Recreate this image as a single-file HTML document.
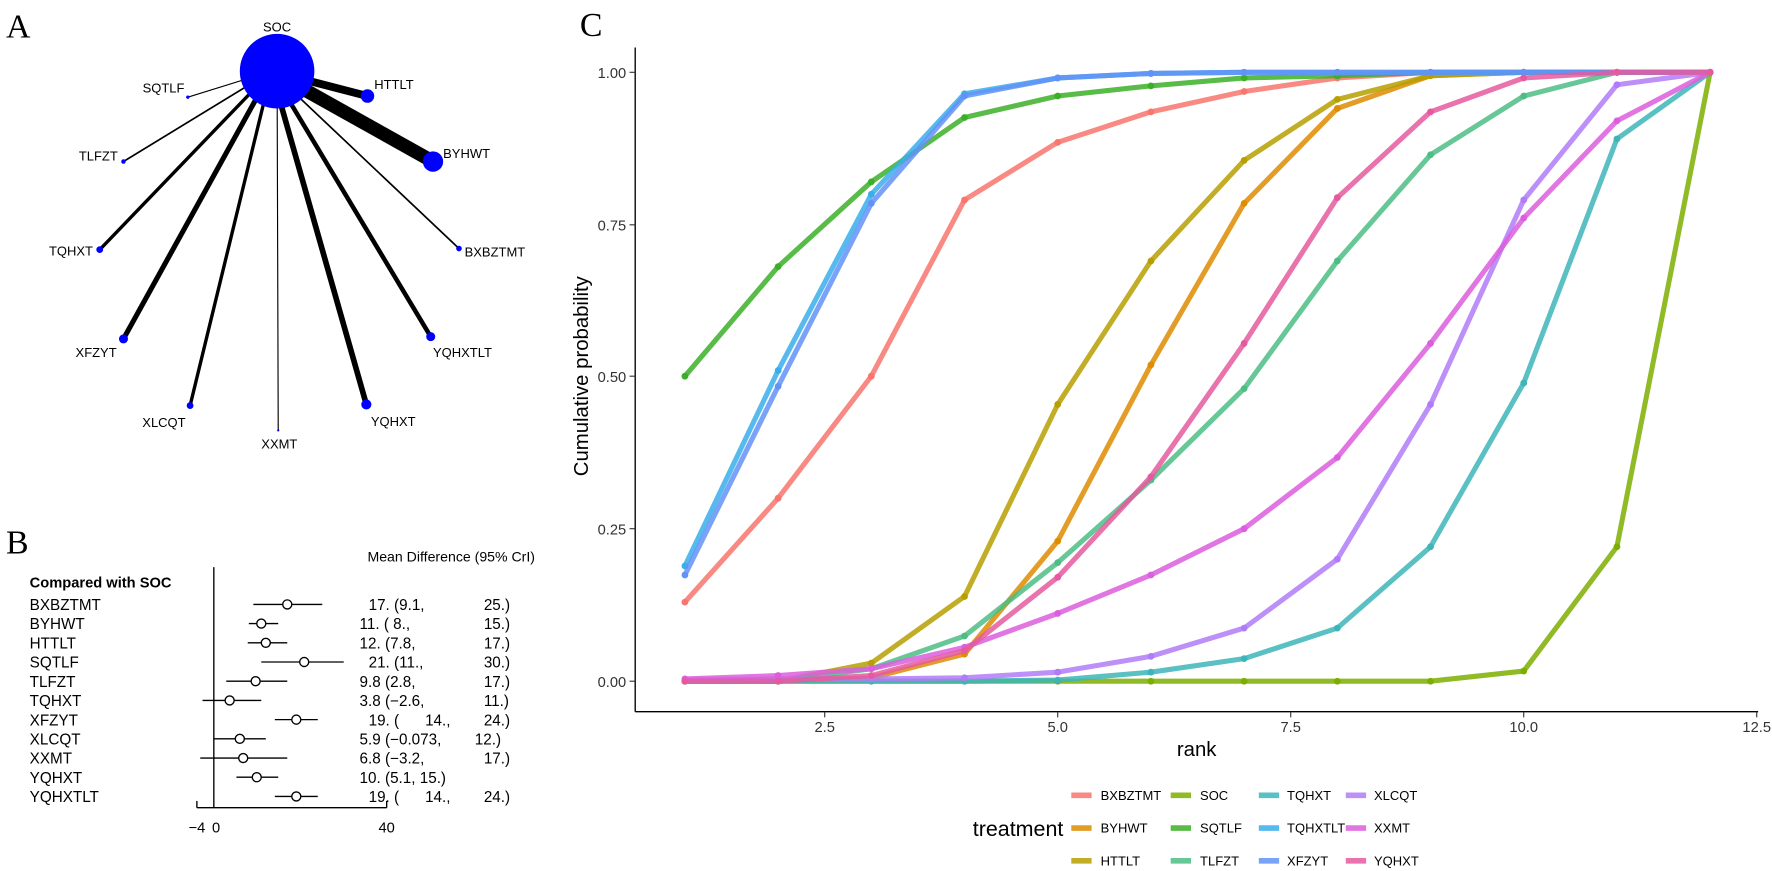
<!DOCTYPE html>
<html><head><meta charset="utf-8"><style>
html,body{margin:0;padding:0;background:#fff;overflow:hidden;}
svg{display:block;}
text{font-family:"Liberation Sans",Arial,sans-serif;white-space:pre;}
</style></head><body>
<svg width="1772" height="871" viewBox="0 0 1568 771" xmlns="http://www.w3.org/2000/svg">
<defs>
<marker id="m" markerUnits="userSpaceOnUse" markerWidth="8" markerHeight="8" refX="4" refY="4"><circle cx="4" cy="4" r="3" fill="context-stroke"/></marker>
</defs>
<rect width="1568" height="771" fill="#fff"/>
<!-- Panel A -->
<text x="5" y="33" font-size="30" style="font-family:'Liberation Serif',serif">A</text>
<g stroke="#000">
<line x1="240" y1="63" x2="325" y2="85" stroke-width="7"/>
<line x1="240" y1="63" x2="383" y2="143" stroke-width="12"/>
<line x1="240" y1="63" x2="406" y2="220" stroke-width="1.5"/>
<line x1="240" y1="63" x2="381" y2="298" stroke-width="4"/>
<line x1="240" y1="63" x2="324" y2="358" stroke-width="5"/>
<line x1="245" y1="63" x2="246" y2="381" stroke-width="1"/>
<line x1="240" y1="63" x2="168" y2="359" stroke-width="3"/>
<line x1="240" y1="63" x2="109" y2="300" stroke-width="4.5"/>
<line x1="240" y1="63" x2="88" y2="221" stroke-width="3"/>
<line x1="240" y1="63" x2="109" y2="143" stroke-width="1.5"/>
<line x1="240" y1="63" x2="166" y2="86" stroke-width="1"/>
</g>
<g fill="#0000ff">
<circle cx="245" cy="63" r="33"/>
<circle cx="325" cy="85" r="6"/>
<circle cx="383" cy="143" r="9"/>
<circle cx="406" cy="220" r="2.5"/>
<circle cx="381" cy="298" r="4"/>
<circle cx="324" cy="358" r="4.5"/>
<circle cx="246" cy="381" r="1"/>
<circle cx="168" cy="359" r="3"/>
<circle cx="109" cy="300" r="4"/>
<circle cx="88" cy="221" r="3"/>
<circle cx="109" cy="143" r="2"/>
<circle cx="166" cy="86" r="1.5"/>
</g>
<g font-size="11.5" fill="#000">
<text x="245" y="28" text-anchor="middle">SOC</text>
<text x="331" y="79">HTTLT</text>
<text x="392" y="140">BYHWT</text>
<text x="411" y="227">BXBZTMT</text>
<text x="383" y="316">YQHXTLT</text>
<text x="328" y="377">YQHXT</text>
<text x="247" y="397" text-anchor="middle">XXMT</text>
<text x="164" y="378" text-anchor="end">XLCQT</text>
<text x="103" y="316" text-anchor="end">XFZYT</text>
<text x="82" y="226" text-anchor="end">TQHXT</text>
<text x="104" y="142" text-anchor="end">TLFZT</text>
<text x="163" y="82" text-anchor="end">SQTLF</text>
</g>
<!-- Panel B -->
<text x="5" y="490" font-size="30" style="font-family:'Liberation Serif',serif">B</text>
<text x="325" y="497" font-size="12.5">Mean Difference (95% CrI)</text>
<text x="26" y="520" font-size="13" font-weight="bold">Compared with SOC</text>
<line x1="189" y1="502" x2="189" y2="715" stroke="#000" stroke-width="1.2"/>
<line x1="174" y1="715" x2="342" y2="715" stroke="#000" stroke-width="1.2"/>
<line x1="174" y1="715" x2="174" y2="709" stroke="#000" stroke-width="1.2"/>
<line x1="342" y1="715" x2="342" y2="709" stroke="#000" stroke-width="1.2"/>
<g font-size="13" text-anchor="middle"><text x="174" y="737">−4</text><text x="191" y="737">0</text><text x="342" y="737">40</text></g>
<g font-size="13.5" fill="#000">
<text x="26" y="540">BXBZTMT</text><text x="26" y="557">BYHWT</text><text x="26" y="574">HTTLT</text><text x="26" y="591">SQTLF</text><text x="26" y="608">TLFZT</text><text x="26" y="625">TQHXT</text><text x="26" y="642">XFZYT</text><text x="26" y="659">XLCQT</text><text x="26" y="676">XXMT</text><text x="26" y="693">YQHXT</text><text x="26" y="710">YQHXTLT</text>
</g>
<g font-size="13.5" fill="#000">
<text x="326" y="540">17. (9.1,</text><text x="428" y="540">25.)</text>
<text x="318" y="557">11. ( 8.,</text><text x="428" y="557">15.)</text>
<text x="318" y="574">12. (7.8,</text><text x="428" y="574">17.)</text>
<text x="326" y="591">21. (11.,</text><text x="428" y="591">30.)</text>
<text x="318" y="608">9.8 (2.8,</text><text x="428" y="608">17.)</text>
<text x="318" y="625">3.8 (−2.6,</text><text x="428" y="625">11.)</text>
<text x="326" y="642">19. (</text><text x="376" y="642">14.,</text><text x="428" y="642">24.)</text>
<text x="318" y="659">5.9 (−0.073,</text><text x="420" y="659">12.)</text>
<text x="318" y="676">6.8 (−3.2,</text><text x="428" y="676">17.)</text>
<text x="318" y="693">10. (5.1, 15.)</text>
<text x="326" y="710">19. (</text><text x="376" y="710">14.,</text><text x="428" y="710">24.)</text>
</g>
<g stroke="#000" stroke-width="1.2" fill="#fff">
<line x1="224" y1="535" x2="285" y2="535"/><circle cx="254" cy="535" r="4"/>
<line x1="220" y1="552" x2="246" y2="552"/><circle cx="231" cy="552" r="4"/>
<line x1="219" y1="569" x2="254" y2="569"/><circle cx="235" cy="569" r="4"/>
<line x1="231" y1="586" x2="304" y2="586"/><circle cx="269" cy="586" r="4"/>
<line x1="200" y1="603" x2="254" y2="603"/><circle cx="226" cy="603" r="4"/>
<line x1="179" y1="620" x2="231" y2="620"/><circle cx="203" cy="620" r="4"/>
<line x1="243" y1="637" x2="281" y2="637"/><circle cx="262" cy="637" r="4"/>
<line x1="189" y1="654" x2="235" y2="654"/><circle cx="212" cy="654" r="4"/>
<line x1="177" y1="671" x2="254" y2="671"/><circle cx="215" cy="671" r="4"/>
<line x1="209" y1="688" x2="246" y2="688"/><circle cx="227" cy="688" r="4"/>
<line x1="243" y1="705" x2="281" y2="705"/><circle cx="262" cy="705" r="4"/>
</g>
<!-- Panel C -->
<text x="513" y="32" font-size="30" style="font-family:'Liberation Serif',serif">C</text>
<line x1="562" y1="42" x2="562" y2="630" stroke="#000" stroke-width="1.2"/>
<line x1="562" y1="630" x2="1556" y2="630" stroke="#000" stroke-width="1.2"/>
<g stroke="#333" stroke-width="1">
<line x1="557" y1="64" x2="562" y2="64"/><line x1="557" y1="199" x2="562" y2="199"/><line x1="557" y1="333" x2="562" y2="333"/><line x1="557" y1="468" x2="562" y2="468"/><line x1="557" y1="603" x2="562" y2="603"/>
<line x1="729.75" y1="630" x2="729.75" y2="635"/><line x1="936" y1="630" x2="936" y2="635"/><line x1="1142.25" y1="630" x2="1142.25" y2="635"/><line x1="1348.5" y1="630" x2="1348.5" y2="635"/><line x1="1554.75" y1="630" x2="1554.75" y2="635"/>
</g>
<g font-size="13" fill="#333" text-anchor="end">
<text x="554" y="69">1.00</text><text x="554" y="204">0.75</text><text x="554" y="338">0.50</text><text x="554" y="473">0.25</text><text x="554" y="608">0.00</text>
</g>
<g font-size="13" fill="#333" text-anchor="middle">
<text x="729.75" y="648">2.5</text><text x="936" y="648">5.0</text><text x="1142.25" y="648">7.5</text><text x="1348.5" y="648">10.0</text><text x="1554.75" y="648">12.5</text>
</g>
<text x="1059" y="669" font-size="18" text-anchor="middle">rank</text>
<text transform="translate(520,333) rotate(-90)" font-size="18" text-anchor="middle">Cumulative probability</text>
<g fill="none" stroke-width="4.5" stroke-linejoin="round" stroke-opacity="0.85" marker-start="url(#m)" marker-mid="url(#m)" marker-end="url(#m)">
<polyline stroke="#F8766D" points="606,533 688.5,441 771,333 853.5,177 936,126 1018.5,99 1101,81 1183.5,69 1266,64 1348.5,64 1431,64 1513.5,64"/>
<polyline stroke="#DE8C00" points="606,603 688.5,603 771,600 853.5,579 936,479 1018.5,323 1101,180 1183.5,96 1266,67 1348.5,64 1431,64 1513.5,64"/>
<polyline stroke="#B79F00" points="606,603 688.5,603 771,587 853.5,528 936,358 1018.5,231 1101,142 1183.5,88 1266,67 1348.5,64 1431,64 1513.5,64"/>
<polyline stroke="#7CAE00" points="606,603 688.5,603 771,603 853.5,603 936,603 1018.5,603 1101,603 1183.5,603 1266,603 1348.5,594 1431,484 1513.5,64"/>
<polyline stroke="#3CAF28" points="606,333 688.5,236 771,161 853.5,104 936,85 1018.5,76 1101,69 1183.5,67 1266,64 1348.5,64 1431,64 1513.5,64"/>
<polyline stroke="#4DBD85" points="606,603 688.5,603 771,592 853.5,563 936,498 1018.5,425 1101,344 1183.5,231 1266,137 1348.5,85 1431,64 1513.5,64"/>
<polyline stroke="#3DB5B8" points="606,603 688.5,603 771,603 853.5,603 936,602 1018.5,595 1101,583 1183.5,556 1266,484 1348.5,339 1431,123 1513.5,64"/>
<polyline stroke="#3AAEEB" points="606,501 688.5,328 771,172 853.5,83 936,69 1018.5,65 1101,64 1183.5,64 1266,64 1348.5,64 1431,64 1513.5,64"/>
<polyline stroke="#6392F7" points="606,509 688.5,342 771,180 853.5,85 936,69 1018.5,65 1101,64 1183.5,64 1266,64 1348.5,64 1431,64 1513.5,64"/>
<polyline stroke="#B07BF8" points="606,602 688.5,601 771,601 853.5,600 936,595 1018.5,581 1101,556 1183.5,495 1266,358 1348.5,177 1431,75 1513.5,64"/>
<polyline stroke="#DC5EDE" points="606,601 688.5,598 771,592 853.5,573 936,543 1018.5,509 1101,468 1183.5,405 1266,304 1348.5,193 1431,107 1513.5,64"/>
<polyline stroke="#E55A9E" points="606,603 688.5,603 771,598 853.5,576 936,511 1018.5,422 1101,304 1183.5,175 1266,99 1348.5,69 1431,64 1513.5,64"/>
</g>
<!-- Legend -->
<text x="941" y="740" font-size="19" text-anchor="end">treatment</text>
<g stroke-width="5" stroke-opacity="0.85">
<line x1="948" y1="704" x2="966" y2="704" stroke="#F8766D"/><line x1="948" y1="733" x2="966" y2="733" stroke="#DE8C00"/><line x1="948" y1="762" x2="966" y2="762" stroke="#B79F00"/>
<line x1="1036" y1="704" x2="1054" y2="704" stroke="#7CAE00"/><line x1="1036" y1="733" x2="1054" y2="733" stroke="#3CAF28"/><line x1="1036" y1="762" x2="1054" y2="762" stroke="#4DBD85"/>
<line x1="1114" y1="704" x2="1132" y2="704" stroke="#3DB5B8"/><line x1="1114" y1="733" x2="1132" y2="733" stroke="#3AAEEB"/><line x1="1114" y1="762" x2="1132" y2="762" stroke="#6392F7"/>
<line x1="1191" y1="704" x2="1209" y2="704" stroke="#B07BF8"/><line x1="1191" y1="733" x2="1209" y2="733" stroke="#DC5EDE"/><line x1="1191" y1="762" x2="1209" y2="762" stroke="#E55A9E"/>
</g>
<g font-size="11.5" fill="#000">
<text x="974" y="708">BXBZTMT</text><text x="974" y="737">BYHWT</text><text x="974" y="766">HTTLT</text>
<text x="1062" y="708">SOC</text><text x="1062" y="737">SQTLF</text><text x="1062" y="766">TLFZT</text>
<text x="1139" y="708">TQHXT</text><text x="1139" y="737">TQHXTLT</text><text x="1139" y="766">XFZYT</text>
<text x="1216" y="708">XLCQT</text><text x="1216" y="737">XXMT</text><text x="1216" y="766">YQHXT</text>
</g>
</svg>
</body></html>
